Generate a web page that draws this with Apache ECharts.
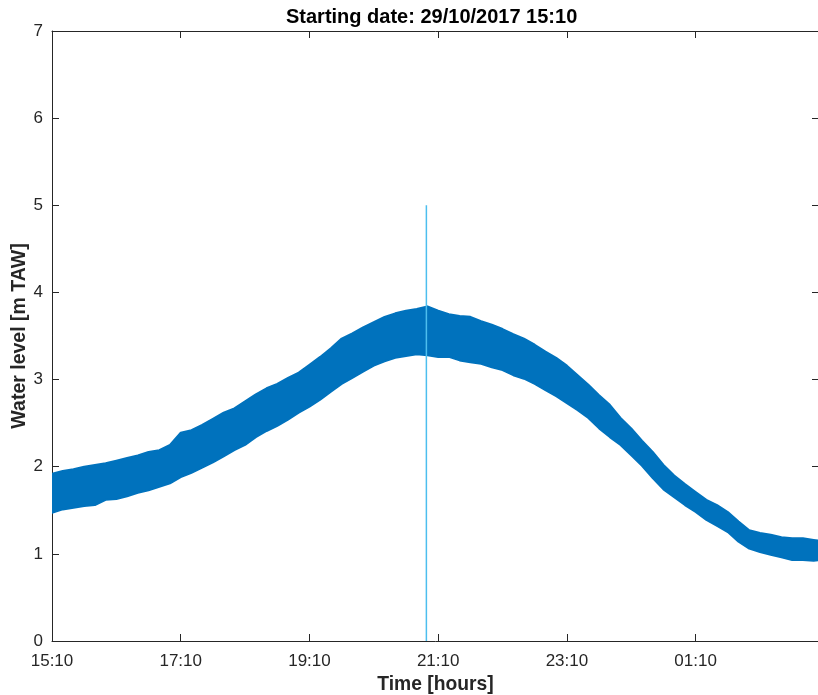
<!DOCTYPE html>
<html>
<head>
<meta charset="utf-8">
<script src="https://cdn.jsdelivr.net/npm/echarts@6/dist/echarts.min.js"></script>
<style>html,body{margin:0;padding:0;background:#fff}#c{width:818px;height:695px}</style>
</head>
<body>
<div id="c"></div>
<script>
// minutes since 29/10/2017 15:10
var timeMin = [0,10,20,30,40,50,60,70,80,90,100,110,120,130,140,150,160,170,180,190,200,210,220,230,240,250,260,270,280,290,300,310,320,330,340,350,360,370,380,390,400,410,420,430,440,450,460,470,480,490,500,510,520,530,540,550,560,570,580,590,600,610,620,630,640,650,660,670,680,690,700,710,715];
// upper and lower envelope of the noisy water level record [m TAW]
var upperLevel = [1.92,1.95,1.97,2.00,2.02,2.04,2.07,2.10,2.13,2.17,2.19,2.25,2.39,2.42,2.48,2.55,2.62,2.67,2.75,2.83,2.90,2.95,3.02,3.08,3.17,3.26,3.36,3.47,3.53,3.60,3.66,3.72,3.76,3.79,3.81,3.84,3.79,3.75,3.73,3.72,3.67,3.63,3.58,3.52,3.47,3.40,3.32,3.25,3.16,3.05,2.94,2.82,2.71,2.56,2.44,2.30,2.17,2.02,1.90,1.80,1.71,1.62,1.56,1.48,1.37,1.27,1.24,1.22,1.19,1.18,1.18,1.16,1.15];
var lowerLevel = [1.47,1.51,1.53,1.55,1.56,1.62,1.63,1.66,1.70,1.73,1.77,1.81,1.88,1.93,1.99,2.05,2.12,2.19,2.25,2.34,2.41,2.47,2.54,2.62,2.69,2.77,2.86,2.95,3.02,3.09,3.16,3.21,3.25,3.27,3.29,3.28,3.26,3.26,3.22,3.20,3.18,3.14,3.11,3.05,3.01,2.95,2.88,2.81,2.73,2.65,2.56,2.44,2.34,2.25,2.13,2.01,1.87,1.74,1.65,1.56,1.48,1.39,1.32,1.25,1.14,1.06,1.02,0.99,0.96,0.93,0.93,0.92,0.93];
// vertical marker line
var markerTime = [349, 349];
var markerLevel = [0, 5];
var xTickLabels = ['15:10','17:10','19:10','21:10','23:10','01:10','03:10'];
var titleText = 'Starting date: 29/10/2017 15:10';

var FONT = "'Liberation Sans', Arial, Helvetica, sans-serif";
var AX = '#262626';
var chart = echarts.init(document.getElementById('c'), null, {renderer:'canvas'});

var bandData = timeMin.map(function(t,i){return [t, upperLevel[i], lowerLevel[i]];});
var markerData = markerTime.map(function(t,i){return [t, markerLevel[i]];});

function xAx(pos, show){
  return {
    type:'value', position:pos, min:0, max:715, interval:120,
    axisLine:{show:true, onZero:false, lineStyle:{color:AX, width:1}},
    axisTick:{show:true, inside:true, length:7, lineStyle:{color:AX}},
    splitLine:{show:false},
    axisLabel:{show:show, color:AX, fontSize:17, fontFamily:FONT, margin:12, showMaxLabel:false,
      formatter:function(v){return (v % 120 === 0) ? (xTickLabels[v/120] || '') : '';}},
    name: show ? 'Time [hours]' : '', nameLocation:'middle', nameGap:34, nameMoveOverlap:false,
    nameTextStyle:{color:AX, fontSize:19.3, fontWeight:'bold', fontFamily:FONT}
  };
}
function yAx(pos, show){
  return {
    type:'value', position:pos, min:0, max:7, interval:1,
    axisLine:{show:true, onZero:false, lineStyle:{color:AX, width:1}},
    axisTick:{show:true, inside:true, length:7, lineStyle:{color:AX}},
    splitLine:{show:false},
    axisLabel:{show:show, color:AX, fontSize:17, fontFamily:FONT, margin:9},
    name: show ? 'Water level [m TAW]' : '', nameLocation:'middle', nameGap:22, nameMoveOverlap:false,
    nameTextStyle:{color:AX, fontSize:19.5, fontWeight:'bold', fontFamily:FONT}
  };
}

chart.setOption({
  backgroundColor:'#ffffff',
  animation:false,
  title:{show:false},
  graphic:[{type:'text', left:286, top:7,
    style:{text:titleText, fill:'#000', font:"bold 20px 'Liberation Sans', Arial, sans-serif"}}],
  grid:{left:52, top:31, width:767, height:610, containLabel:false, outerBoundsMode:'none'},
  xAxis:[xAx('bottom', true), xAx('top', false)],
  yAxis:[yAx('left', true), yAx('right', false)],
  series:[
    {type:'custom', data:bandData, z:2, clip:true,
      encode:{x:0, y:[1,2]},
      renderItem:function(params, api){
        if (params.dataIndex !== 0) return null;
        var pts = [], i;
        for (i = 0; i < bandData.length; i++) pts.push(api.coord([bandData[i][0], bandData[i][1]]));
        for (i = bandData.length - 1; i >= 0; i--) pts.push(api.coord([bandData[i][0], bandData[i][2]]));
        return {type:'polygon', shape:{points:pts},
          style:{fill:'#0072BD', stroke:'#0072BD', lineWidth:2, lineJoin:'round'}};
      }},
    {type:'line', data:markerData, symbol:'none',
      lineStyle:{color:'#4DBEEE', width:1.5}, z:3}
  ]
});
</script>
</body>
</html>
